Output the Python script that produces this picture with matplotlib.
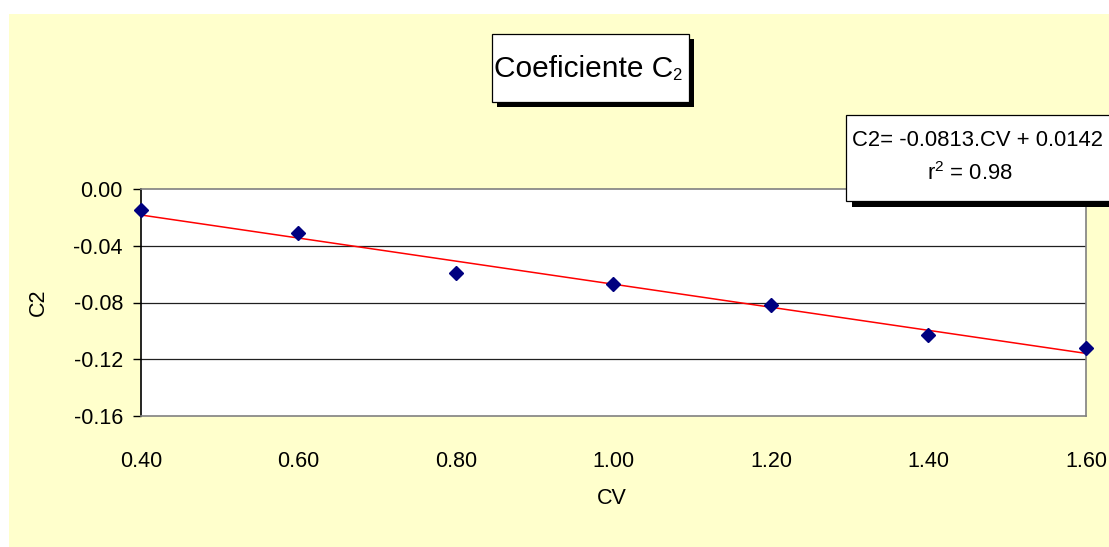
import matplotlib
matplotlib.use("Agg")
import matplotlib.pyplot as plt
from matplotlib.patches import Rectangle
import numpy as np

# --- données ---
cv = [0.40, 0.60, 0.80, 1.00, 1.20, 1.40, 1.60]
c2 = [-0.015, -0.031, -0.059, -0.067, -0.082, -0.103, -0.112]
pente = -0.0813
ordonnee = 0.0142
r2 = 0.98
xticks = [0.40, 0.60, 0.80, 1.00, 1.20, 1.40, 1.60]
yticks = [0.00, -0.04, -0.08, -0.12, -0.16]

W, H = 1109, 547
plt.rcParams['font.family'] = ['Liberation Sans', 'DejaVu Sans']

fig = plt.figure(figsize=(W / 100, H / 100), dpi=100)
fig.patch.set_facecolor('white')


def px(x0, y0, x1, y1):
    # pixels (origine en haut à gauche) -> coordonnées figure
    return x0 / W, 1 - y1 / H, (x1 - x0) / W, (y1 - y0) / H


# fond jaune
l, b, w, h = px(9, 14, W, H)
fig.add_artist(Rectangle((l, b), w, h, transform=fig.transFigure,
                         facecolor='#FFFFCC', edgecolor='none', zorder=0))

ax = fig.add_axes(px(141, 189, 1086, 416))
ax.set_facecolor('white')

# trait de tendance
xs = np.array([cv[0], cv[-1]])
ax.plot(xs, pente * xs + ordonnee, color='red', lw=1.1, zorder=3)
ax.plot(cv, c2, linestyle='none', marker='D', markersize=7.5,
        color='#000080', clip_on=False, zorder=4)

ax.set_xlim(0.40, 1.60)
ax.set_ylim(-0.16, 0.00)
ax.set_xticks(xticks)
ax.set_xticklabels([f"{v:.2f}" for v in xticks], fontsize=15.5)
ax.set_yticks(yticks)
ax.set_yticklabels([f"{v:.2f}" for v in yticks], fontsize=15.5)
ax.tick_params(axis='x', length=0, pad=25)
ax.tick_params(axis='y', length=6, width=1, color='black', pad=7)

for y in yticks[1:-1]:
    ax.axhline(y, color='#202020', lw=0.9, zorder=1)

for s in ['top', 'right', 'bottom']:
    ax.spines[s].set_color('#808080')
    ax.spines[s].set_linewidth(1.2)
ax.spines['left'].set_color('black')
ax.spines['left'].set_linewidth(1.2)

fig.text(38 / W, 1 - 302 / H, 'C2', rotation=90, fontsize=15.5,
         ha='center', va='center')
fig.text(612 / W, 1 - 498 / H, 'CV', fontsize=15.5, ha='center', va='center')


def boite(x0, y0, x1, y1, d):
    l, b, w, h = px(x0 + d, y0 + d, x1 + d, y1 + d)
    fig.add_artist(Rectangle((l, b), w, h, transform=fig.transFigure,
                             facecolor='black', edgecolor='none', zorder=5))
    l, b, w, h = px(x0, y0, x1, y1)
    fig.add_artist(Rectangle((l, b), w, h, transform=fig.transFigure,
                             facecolor='white', edgecolor='black', lw=0.9, zorder=6))


# titre
boite(492, 34, 689, 102, 5)
fig.text(584 / W, 1 - 69 / H, 'Coeficiente C', fontsize=21.5,
         ha='center', va='center', zorder=7)
fig.text(677 / W, 1 - 75 / H, '2', fontsize=12,
         ha='center', va='center', zorder=7)

# équation
boite(846, 115, 1130, 201, 6)
fig.text(978 / W, 1 - 140 / H, f"C2= {pente:.4f}.CV + {ordonnee:.4f}", fontsize=15.8,
         ha='center', va='center', zorder=7)
fig.text(970 / W, 1 - 174 / H, f"r$^{{\\mathregular{{2}}}}$ = {r2:.2f}", fontsize=15.8,
         ha='center', va='center', zorder=7)

fig.savefig('out.png', dpi=100, facecolor=fig.get_facecolor())
